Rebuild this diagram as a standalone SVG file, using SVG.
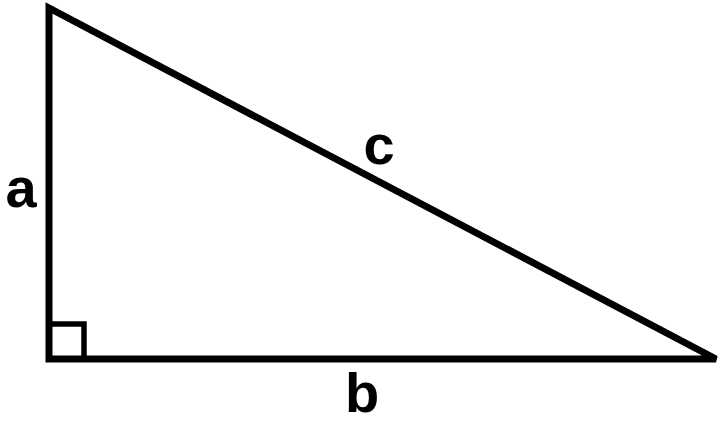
<svg xmlns="http://www.w3.org/2000/svg" width="720" height="421" viewBox="0 0 720 421">
<style>
.edge{fill:none;stroke:#000;stroke-width:7}
.mark{fill:none;stroke:#000;stroke-width:5.5}
.lbl{font-family:"Liberation Sans",Arial,sans-serif;font-weight:bold;font-size:56px;fill:#000;text-anchor:middle}
</style>
<rect width="720" height="421" fill="#fff"/>
<g id="connectors">
<polygon id="triangle" class="edge" points="49,8 49,359 716,359"/>
<polyline id="right-angle" class="mark" points="49,324 84,324 84,359"/>
</g>
<g id="label-a"><text class="lbl" x="21" y="207">a</text></g>
<g id="label-b"><text class="lbl" x="362" y="412">b</text></g>
<g id="label-c"><text class="lbl" x="379" y="164">c</text></g>
</svg>
